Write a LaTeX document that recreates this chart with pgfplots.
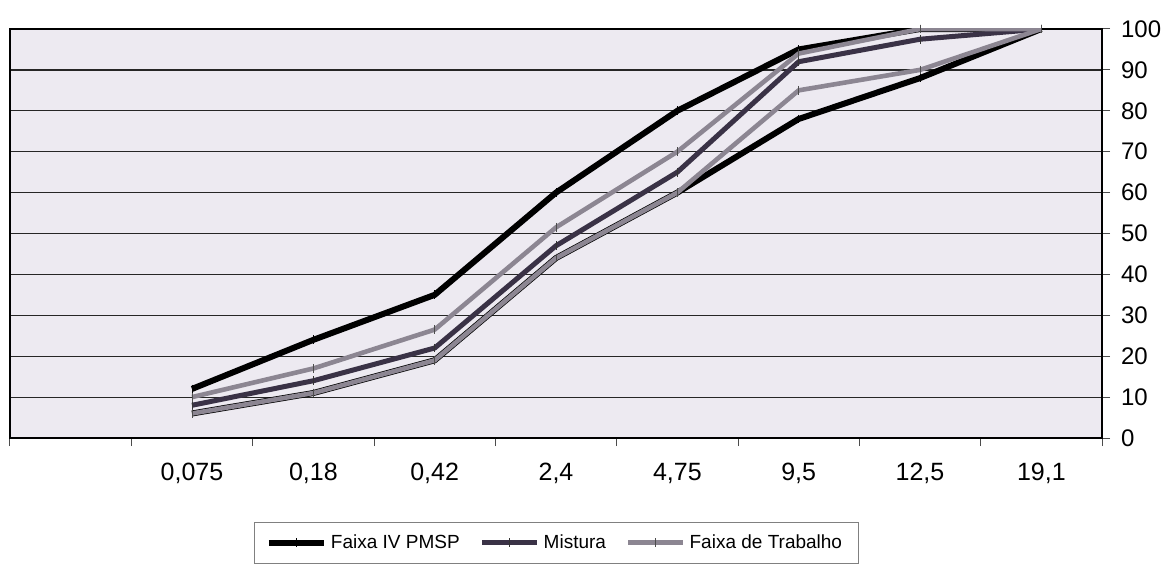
\documentclass[border=0pt]{standalone}
\usepackage{fontspec}
\setmainfont{Liberation Sans}
\usepackage{pgfplots}
\pgfplotsset{compat=1.18}

\definecolor{mist}{RGB}{58,50,70}
\definecolor{trab}{RGB}{140,134,146}
\definecolor{plotbg}{RGB}{237,234,241}

\begin{document}
\begin{tikzpicture}
	\begin{axis}[
		name=ax,
		scale only axis,
		width=546pt, height=204.5pt,
		xmin=-0.5, xmax=8.5,
		ymin=0, ymax=100,
		axis background/.style={fill=plotbg},
		axis line style={line width=1.3pt},
		xtick={1,...,8},
		xticklabels={{0,075},{0,18},{0,42},{2,4},{4,75},{9,5},{12,5},{19,1}},
		minor xtick={-0.5,0.5,...,8.5},
		major x tick style={draw=none},
		ytick={0,10,...,100},
		ymajorgrids,
		grid style={black!85, line width=0.6pt},
		tick align=outside,
		xtick pos=left, ytick pos=right,
		yticklabel pos=right,
		major tick length=4pt, minor tick length=4pt,
		tick style={black!70, line width=0.5pt},
		/pgf/number format/assume math mode=true,
		xticklabel style={font=\fontsize{12.5}{14}\selectfont, yshift=-5pt},
		yticklabel style={font=\fontsize{12}{14}\selectfont, xshift=2pt},
		legend style={at={(0.5,-0.205)}, anchor=north, legend columns=3,
			draw=black!50, line width=0.4pt, font=\fontsize{9.5}{11}\selectfont,
			inner xsep=6pt, inner ysep=4pt,
			/tikz/every even column/.append style={column sep=8pt}},
		legend image code/.code={\draw[mark repeat=2,mark phase=2]
			plot coordinates {(0pt,0pt)(13.75pt,0pt)(27.5pt,0pt)};},
		every axis plot/.append style={line join=round},
	]
	% Faixa IV PMSP (upper and lower limits)
	\addplot[black, line width=3pt, mark=|, mark size=2.2pt,
		mark options={black, line width=0.5pt}]
		coordinates {(1,12)(2,24)(3,35)(4,60)(5,80)(6,95)(7,100)(8,100)};
	\addlegendentry{Faixa IV PMSP}
	\addplot[black, line width=3pt, mark=|, mark size=2.2pt,
		mark options={black, line width=0.5pt}, forget plot]
		coordinates {(1,6)(2,11)(3,19)(4,44)(5,60)(6,78)(7,88)(8,100)};
	% Mistura
	\addplot[mist, line width=2.5pt, mark=|, mark size=2.2pt,
		mark options={black!80, line width=0.5pt}]
		coordinates {(1,8)(2,14)(3,22)(4,47)(5,65)(6,92)(7,97.5)(8,100)};
	\addlegendentry{Mistura}
	% Faixa de Trabalho (upper and lower limits)
	\addplot[trab, line width=2.3pt, mark=|, mark size=2.2pt,
		mark options={black!70, line width=0.5pt}]
		coordinates {(1,10)(2,17)(3,26.5)(4,51.5)(5,70)(6,94)(7,100)(8,100)};
	\addlegendentry{Faixa de Trabalho}
	\addplot[trab, line width=2.3pt, mark=|, mark size=2.2pt,
		mark options={black!70, line width=0.5pt}, forget plot]
		coordinates {(1,6)(2,11)(3,19)(4,44)(5,60)(6,85)(7,90)(8,100)};
	\end{axis}
	\pgfresetboundingbox
	\useasboundingbox ([shift={(-5pt,-62.5pt)}]ax.south west)
		rectangle ([shift={(35.5pt,14.5pt)}]ax.north east);
\end{tikzpicture}
\end{document}
